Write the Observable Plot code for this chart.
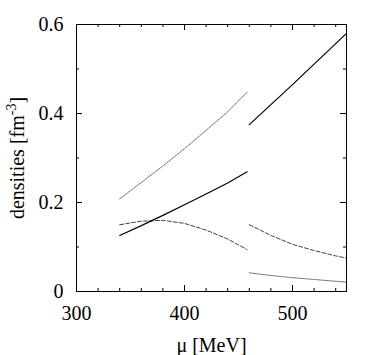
<!DOCTYPE html>
<html>
<head>
<meta charset="utf-8">
<script src="https://cdn.jsdelivr.net/npm/d3@7"></script>
<script src="https://cdn.jsdelivr.net/npm/@observablehq/plot@0.6"></script>
<style>
  html, body { margin: 0; padding: 0; background: #fff; }
  #chart svg { display: block; }
  #chart svg text { font-family: "Liberation Serif", "Times New Roman", serif; }
</style>
</head>
<body>
<div id="chart"></div>
<script>
// ---- data ----
const muLow = [340, 360, 380, 400, 420, 440, 458];
const muHigh = [460, 480, 500, 520, 540, 550];

const solidLow = [0.126, 0.148, 0.171, 0.195, 0.219, 0.244, 0.269];
const solidHigh = [0.375, 0.420, 0.465, 0.511, 0.557, 0.580];
const dottedLow = [0.208, 0.245, 0.282, 0.321, 0.362, 0.404, 0.448];
const dottedHigh = [0.042, 0.036, 0.031, 0.027, 0.023, 0.021];
const dashedLow = [0.150, 0.158, 0.160, 0.153, 0.138, 0.118, 0.094];
const dashedHigh = [0.150, 0.126, 0.106, 0.092, 0.080, 0.075];

const xTickLabels = [300, 400, 500];
const xMinorTicks = [320, 340, 360, 380, 420, 440, 460, 480, 520, 540];
const yTickLabels = [0, 0.2, 0.4, 0.6];
const yMinorTicks = [0.1, 0.3, 0.5];

const xLabel = "μ [MeV]";
const yLabel = "densities [fm";
const yLabelSup = "-3";

// ---- layout ----
const W = 382, H = 355;
const mL = 76, mR = 36, mT = 24, mB = 64;
const pw = W - mL - mR, ph = H - mT - mB;
const majorLen = 6, minorLen = 3;
const font = "'Liberation Serif', 'Times New Roman', serif";

const toPts = (xs, ys) => xs.map((x, i) => ({x, y: ys[i]}));

const chart = Plot.plot({
  width: W,
  height: H,
  marginLeft: mL, marginRight: mR, marginTop: mT, marginBottom: mB,
  style: {fontFamily: font, fontSize: "20px", background: "white", color: "black"},
  x: {domain: [300, 550]},
  y: {domain: [0, 0.6]},
  marks: [
    // tick labels
    Plot.axisX(xTickLabels, {tickSize: 0, tickPadding: 14, label: null, fontSize: 20, fontFamily: font, fontVariant: "normal", tickFormat: d => String(d)}),
    Plot.axisY(yTickLabels, {tickSize: 0, tickPadding: 13, label: null, fontSize: 20, fontFamily: font, fontVariant: "normal", tickFormat: d => String(d)}),
    // inward ticks: left / right
    Plot.tickY(yTickLabels, {y: d => d, insetRight: pw - majorLen, stroke: "black"}),
    Plot.tickY(yTickLabels, {y: d => d, insetLeft: pw - majorLen, stroke: "black"}),
    Plot.tickY(yMinorTicks, {y: d => d, insetRight: pw - minorLen, stroke: "black"}),
    Plot.tickY(yMinorTicks, {y: d => d, insetLeft: pw - minorLen, stroke: "black"}),
    // inward ticks: bottom / top
    Plot.tickX(xTickLabels, {x: d => d, insetTop: ph - majorLen, stroke: "black"}),
    Plot.tickX(xTickLabels, {x: d => d, insetBottom: ph - majorLen, stroke: "black"}),
    Plot.tickX(xMinorTicks, {x: d => d, insetTop: ph - minorLen, stroke: "black"}),
    Plot.tickX(xMinorTicks, {x: d => d, insetBottom: ph - minorLen, stroke: "black"}),
    // curves
    Plot.line(toPts(muLow, dottedLow), {x: "x", y: "y", stroke: "#666", strokeWidth: 1, strokeDasharray: "1,1"}),
    Plot.line(toPts(muHigh, dottedHigh), {x: "x", y: "y", stroke: "#666", strokeWidth: 1, strokeDasharray: "1,1"}),
    Plot.line(toPts(muLow, dashedLow), {x: "x", y: "y", stroke: "#444", strokeWidth: 1, strokeDasharray: "4,2"}),
    Plot.line(toPts(muHigh, dashedHigh), {x: "x", y: "y", stroke: "#444", strokeWidth: 1, strokeDasharray: "4,2"}),
    Plot.line(toPts(muLow, solidLow), {x: "x", y: "y", stroke: "black", strokeWidth: 1.2}),
    Plot.line(toPts(muHigh, solidHigh), {x: "x", y: "y", stroke: "black", strokeWidth: 1.2}),
    // frame
    Plot.frame({stroke: "black", strokeWidth: 1}),
    // axis titles
    Plot.text([xLabel], {text: d => d, frameAnchor: "bottom", dy: 54, fontSize: 20, fontFamily: font, textAnchor: "middle", lineAnchor: "middle"}),
    Plot.text([yLabel], {text: d => d, frameAnchor: "left", dx: -59, rotate: -90, fontSize: 20, fontFamily: font, textAnchor: "middle", lineAnchor: "middle", className: "ylabel-title"})
  ]
});

// add superscript to y-axis title as real text
const t = chart.querySelector(".ylabel-title text");
if (t) {
  const ns = "http://www.w3.org/2000/svg";
  const base = t.textContent;
  t.textContent = "";
  const s1 = document.createElementNS(ns, "tspan");
  s1.textContent = base;
  const s2 = document.createElementNS(ns, "tspan");
  s2.textContent = yLabelSup;
  s2.setAttribute("font-size", "14");
  s2.setAttribute("dy", "-8");
  const s3 = document.createElementNS(ns, "tspan");
  s3.textContent = "]";
  s3.setAttribute("dy", "8");
  t.append(s1, s2, s3);
}

document.getElementById("chart").appendChild(chart);
</script>
</body>
</html>
